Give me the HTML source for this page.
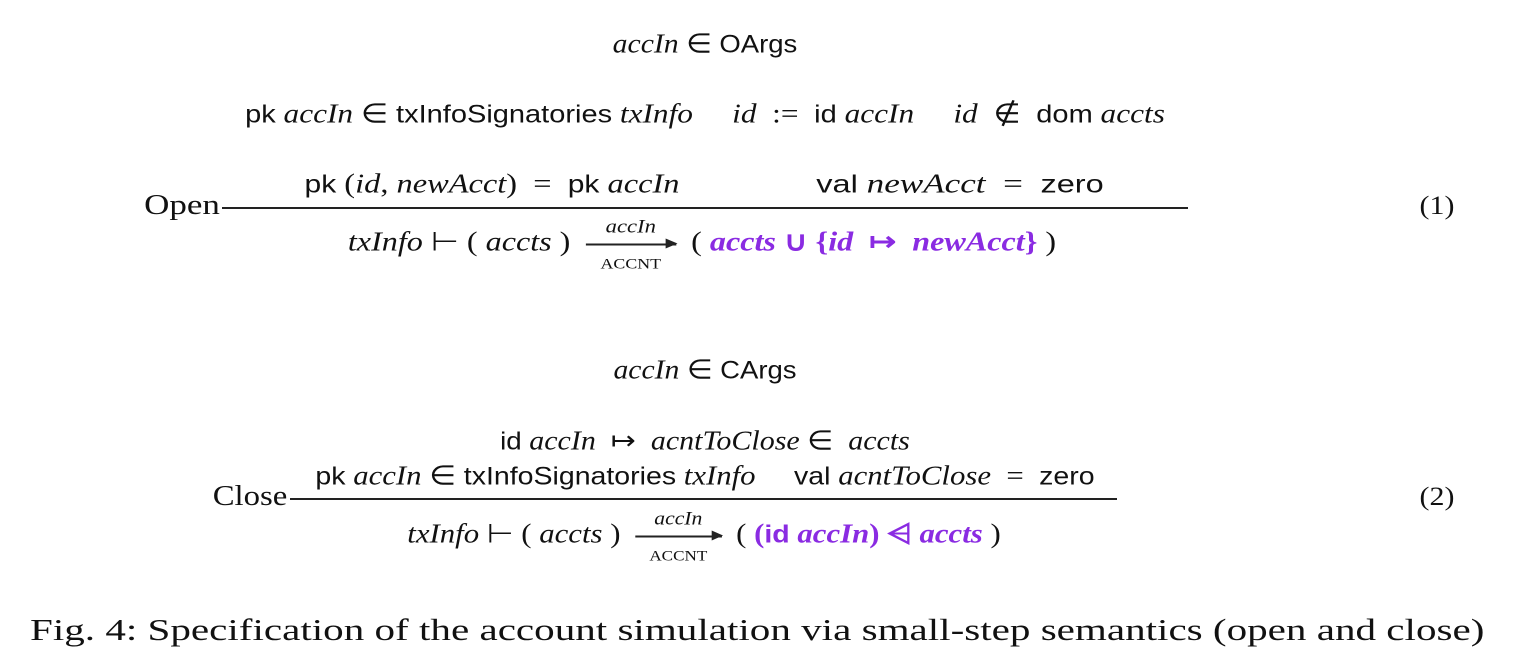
<!DOCTYPE html>
<html><head><meta charset="utf-8"><style>
body{margin:0;width:1516px;height:664px;background:#fff;position:relative;overflow:hidden;font-family:"Liberation Serif",serif;color:#111}
.l{position:absolute;white-space:nowrap;font-size:27px;line-height:1;transform:translate(-50%,-50%) scaleX(var(--k,1))}
i{font-family:"Liberation Serif",serif;font-style:italic}
.s{font-family:"Liberation Sans",sans-serif;font-size:25px}
.p{color:#8a2be2;font-weight:bold}
.rule{position:absolute;height:1.5px;background:#222}
.arr{display:inline-block;position:relative;width:76px;vertical-align:middle;margin:0 6px}
.arr .t{position:absolute;left:0;right:0;top:-26px;text-align:center;font-size:19px;font-style:italic}
.arr .b{position:absolute;left:0;right:0;top:14px;text-align:center;font-size:15px}
.arr .line{height:1.5px;background:#222;position:relative}
.arr .line:after{content:"";position:absolute;right:-1px;top:-5px;border-left:10px solid #222;border-top:5.5px solid transparent;border-bottom:5.5px solid transparent}
</style></head><body>
<div class="l" style="left:705px;top:44px;--k:1.1"><i>accIn</i> ∈ <span class="s">OArgs</span></div>
<div class="l" style="left:705px;top:114px;--k:1.16"><span class="s">pk</span> <i>accIn</i> ∈ <span class="s">txInfoSignatories</span> <i>txInfo</i> &nbsp;&nbsp;&nbsp; <i>id</i> &nbsp;:= &nbsp;<span class="s">id</span> <i>accIn</i> &nbsp;&nbsp;&nbsp; <i>id</i> &nbsp;∉ &nbsp;<span class="s">dom</span> <i>accts</i></div>
<div class="l" style="left:492px;top:184px;--k:1.2"><span class="s">pk</span> (<i>id</i>, <i>newAcct</i>) &nbsp;= &nbsp;<span class="s">pk</span> <i>accIn</i></div>
<div class="l" style="left:960px;top:184px;--k:1.3"><span class="s">val</span> <i>newAcct</i> &nbsp;= &nbsp;<span class="s">zero</span></div>
<div class="rule" style="left:222px;top:207px;width:966px"></div>
<div class="l" style="left:182px;top:206px;font-size:28px;--k:1.25">Open</div>
<div class="l" style="left:1437px;top:206px;font-size:26px;--k:1.15">(1)</div>
<div class="l" style="left:702px;top:242px;--k:1.19"><i>txInfo</i> ⊢ ( <i>accts</i> ) <span class="arr"><span class="t">accIn</span><div class="line"></div><span class="b">ACCNT</span></span> ( <span class="p"><i>accts</i> ∪ {<i>id</i> &nbsp;↦ &nbsp;<i>newAcct</i>}</span> )</div>

<div class="l" style="left:705px;top:370px;--k:1.1"><i>accIn</i> ∈ <span class="s">CArgs</span></div>
<div class="l" style="left:705px;top:441px;--k:1.11"><span class="s">id</span> <i>accIn</i> &nbsp;↦ &nbsp;<i>acntToClose</i> ∈ &nbsp;<i>accts</i></div>
<div class="l" style="left:705px;top:476px;--k:1.14"><span class="s">pk</span> <i>accIn</i> ∈ <span class="s">txInfoSignatories</span> <i>txInfo</i> &nbsp;&nbsp;&nbsp; <span class="s">val</span> <i>acntToClose</i> &nbsp;= &nbsp;<span class="s">zero</span></div>
<div class="rule" style="left:290px;top:498px;width:827px"></div>
<div class="l" style="left:250px;top:497px;font-size:28px;--k:1.17">Close</div>
<div class="l" style="left:1437px;top:497px;font-size:26px;--k:1.15">(2)</div>
<div class="l" style="left:704px;top:534px;--k:1.14"><i>txInfo</i> ⊢ ( <i>accts</i> ) <span class="arr"><span class="t">accIn</span><div class="line"></div><span class="b">ACCNT</span></span> ( <span class="p">(<span class="s" style="font-weight:bold">id</span> <i>accIn</i>) ⩤ <i>accts</i></span> )</div>

<div style="position:absolute;left:30px;top:612px;font-size:31px;white-space:nowrap;transform:scaleX(1.325);transform-origin:0 0">Fig. 4: Specification of the account simulation via small-step semantics (open and close)</div>
</body></html>
